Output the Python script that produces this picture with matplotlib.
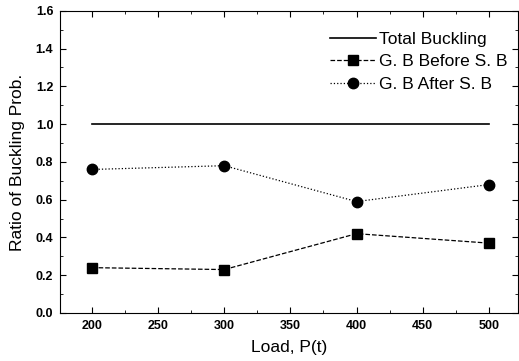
import matplotlib
matplotlib.use("Agg")
import matplotlib.pyplot as plt
from matplotlib.ticker import MultipleLocator

load = [200, 300, 400, 500]
total = [1.0, 1.0, 1.0, 1.0]
before = [0.24, 0.23, 0.42, 0.37]
after = [0.76, 0.78, 0.59, 0.68]

plt.rcParams["font.family"] = ["Liberation Sans", "DejaVu Sans"]

fig = plt.figure(figsize=(5.19, 3.61), dpi=100)
ax = fig.add_axes([0.116, 0.133, 0.882, 0.837])

ax.plot(load, total, "-", color="black", lw=1.2, label="Total Buckling")
ax.plot(load, before, "--", color="black", lw=0.9, marker="s", ms=7,
        label="G. B Before S. B")
ax.plot(load, after, ":", color="black", lw=0.9, marker="o", ms=7.5,
        label="G. B After S. B")

ax.set_xlim(176, 522)
ax.set_ylim(0, 1.6)
ax.xaxis.set_major_locator(MultipleLocator(50))
ax.xaxis.set_minor_locator(MultipleLocator(25))
ax.yaxis.set_major_locator(MultipleLocator(0.2))
ax.yaxis.set_minor_locator(MultipleLocator(0.1))
ax.yaxis.set_major_formatter(matplotlib.ticker.FormatStrFormatter("%.1f"))
ax.tick_params(which="both", direction="in", top=True, right=True)
ax.tick_params(which="major", length=4, labelsize=9, pad=5)
ax.tick_params(which="minor", length=2)
for lbl in ax.get_xticklabels() + ax.get_yticklabels():
    lbl.set_fontweight("bold")

ax.set_xlabel("Load, P(t)", fontsize=12.5, labelpad=6)
ax.set_ylabel("Ratio of Buckling Prob.", fontsize=12.5, labelpad=8)

ax.legend(loc="upper right", frameon=False, fontsize=12.5, handlelength=2.6,
          handletextpad=0.2, labelspacing=0.42, borderaxespad=0.2,
          bbox_to_anchor=(1.0, 0.965))

fig.savefig("out.png", dpi=100)
